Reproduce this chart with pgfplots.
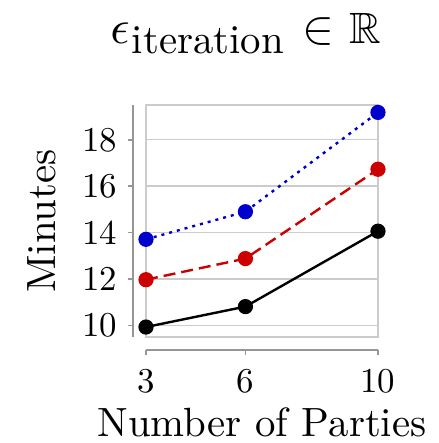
\documentclass[border=0pt]{standalone}
\usepackage{amsmath,amssymb}
\usepackage{graphicx}
\usepackage{fontspec}
\setmainfont{lmroman10-regular}[Extension=.otf, BoldFont=lmroman10-bold, ItalicFont=lmroman10-italic]
\usepackage{pgfplots}
\pgfplotsset{compat=1.18}
\definecolor{gridgray}{RGB}{204,204,204}
\definecolor{spinegray}{RGB}{150,150,150}
\definecolor{dblue}{RGB}{0,0,204}
\definecolor{dred}{RGB}{204,0,0}
\begin{document}
\begin{tikzpicture}
\useasboundingbox (-73bp,-53bp) rectangle (146.5bp,168.5bp);
\begin{axis}[
  scale only axis, width=116bp, height=116bp,
  xmin=3, xmax=10, ymin=9.5, ymax=19.5,
  xtick={3,6,10}, ytick={10,12,14,16,18},
  /pgf/number format/assume math mode=true,
  xtick pos=bottom, ytick pos=left,
  tick align=outside, major tick length=2.5bp,
  axis line style={draw=gridgray, line width=0.7bp},
  ymajorgrids, major grid style={draw=gridgray, line width=0.7bp},
  tick style={draw=spinegray, line width=0.8bp},
  xtick style={yshift=-6.5bp}, ytick style={xshift=-6.5bp},
  xticklabel style={yshift=-10bp}, yticklabel style={xshift=-8.3bp},
  tick label style={font=\fontsize{17.5}{20}\selectfont},
  xlabel={Number of Parties}, ylabel={Minutes},
  xlabel style={at={(axis description cs:0.5,0)}, anchor=base, yshift=-49.5bp,
    inner sep=0pt, font=\fontsize{20.5}{24}\selectfont},
  ylabel style={at={(axis description cs:-0.448,0.5)}, anchor=center,
    inner sep=0pt, font=\fontsize{20.5}{24}\selectfont},
  title={\scalebox{2.4}{$\epsilon$}\hspace{1bp}\raisebox{-5bp}{\fontsize{20.5}{22}\selectfont iteration}\hspace{9bp}\scalebox{2.4}{$\in$}\hspace{8bp}\scalebox{2.2}{$\mathbb{R}$}},
  title style={at={(axis description cs:0.5,1)}, anchor=base, yshift=25bp, xshift=-8bp,
    inner sep=0pt},
  clip=false,
]
% dotted blue
\addplot[dblue, line width=1.2bp, dash pattern=on 1.5bp off 2.5bp,
  mark=*, mark size=3.2bp, mark options={solid}]
  coordinates {(3,13.71)(6,14.90)(10,19.18)};
% dashed red
\addplot[dred, line width=1.2bp, dash pattern=on 6bp off 3bp,
  mark=*, mark size=3.2bp, mark options={solid}]
  coordinates {(3,11.97)(6,12.88)(10,16.73)};
% solid black
\addplot[black, line width=1.2bp, mark=*, mark size=3.2bp]
  coordinates {(3,9.93)(6,10.81)(10,14.06)};

% detached spines
\draw[spinegray, line width=0.8bp] ([xshift=-6.5bp]axis cs:3,9.5) -- ([xshift=-6.5bp]axis cs:3,19.5);
\draw[spinegray, line width=0.8bp] ([yshift=-6.5bp]axis cs:3,9.5) -- ([yshift=-6.5bp]axis cs:10,9.5);
\end{axis}
\end{tikzpicture}
\end{document}
